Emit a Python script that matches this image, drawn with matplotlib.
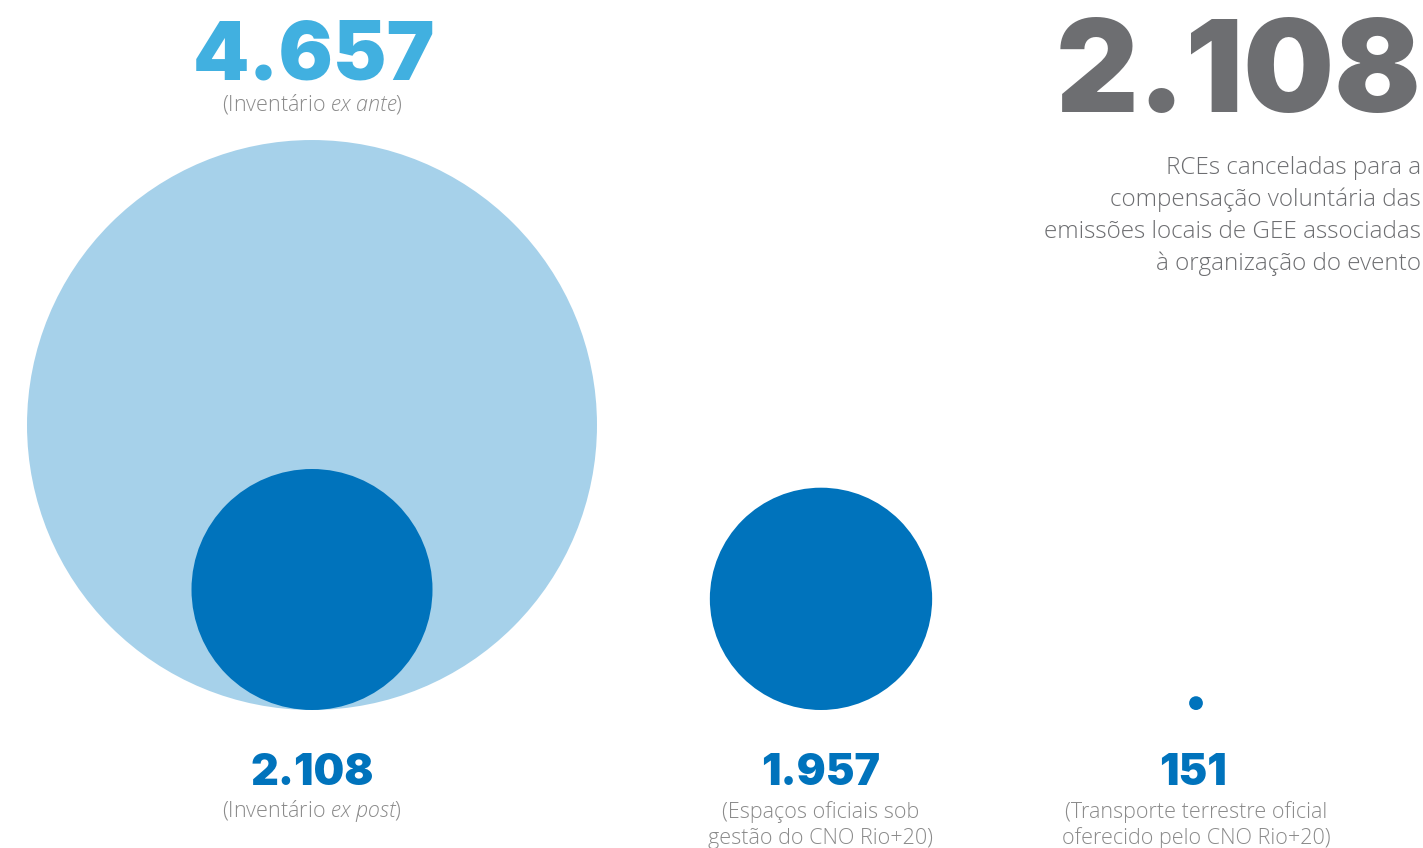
import matplotlib
matplotlib.use("Agg")
import matplotlib.pyplot as plt
from matplotlib.patches import Circle

# ---- data ----
labels = ["Inventário ex ante", "Inventário ex post", "Espaços oficiais sob gestão do CNO Rio+20",
          "Transporte terrestre oficial oferecido pelo CNO Rio+20"]
values = [4657, 2108, 1957, 151]
value_texts = ["4.657", "2.108", "1.957", "151"]
total_value_text = "2.108"
total_desc = ["RCEs canceladas para a", "compensação voluntária das",
              "emissões locais de GEE associadas", "à organização do evento"]

# ---- layout ----
W, H = 1423, 848
LIGHT = "#a6d1ea"
DARK = "#0073bc"
SKY = "#41b0e0"
GRAY = "#6d6e71"
SUB = "#8a8a8a"
DESC = "#6d6e71"
base_y = 710
ref_v, ref_r, power = 2108, 120.5, 1.086
def radius(v):
    return ref_r * (v / ref_v) ** power

centers_x = [312, 312, 821, 1196]
circle_colors = [LIGHT, DARK, DARK, DARK]

plt.rcParams["mathtext.fontset"] = "custom"
plt.rcParams["mathtext.rm"] = "Open Sans:light"
plt.rcParams["mathtext.it"] = "Open Sans:italic:light"

fig = plt.figure(figsize=(W / 100, H / 100), dpi=100)
ax = fig.add_axes([0, 0, 1, 1])
ax.set_xlim(0, W)
ax.set_ylim(H, 0)
ax.set_aspect("equal")
ax.axis("off")

for v, cx, c in zip(values, centers_x, circle_colors):
    r = radius(v)
    ax.add_patch(Circle((cx, base_y - r), r, color=c, lw=0))

NUM = dict(family="Inter", fontweight=900)
LIGHTF = dict(family="Open Sans", fontweight=300)
sub_fs = 15.5

# top-left number
ax.text(314, 80, value_texts[0], color=SKY, fontsize=58, ha="center", va="baseline", **NUM)
ax.text(312, 110, "(Inventário $\\it{ex\\ ante}$)", color=SUB, fontsize=sub_fs, ha="center", va="baseline", **LIGHTF)

# bottom numbers
ax.text(312, 785, value_texts[1], color=DARK, fontsize=31, ha="center", va="baseline", **NUM)
ax.text(312, 817, "(Inventário $\\it{ex\\ post}$)", color=SUB, fontsize=sub_fs, ha="center", va="baseline", **LIGHTF)
ax.text(821, 785, value_texts[2], color=DARK, fontsize=31, ha="center", va="baseline", **NUM)
ax.text(821, 818, "(Espaços oficiais sob", color=SUB, fontsize=sub_fs, ha="center", va="baseline", **LIGHTF)
ax.text(821, 844, "gestão do CNO Rio+20)", color=SUB, fontsize=sub_fs, ha="center", va="baseline", **LIGHTF)
ax.text(1193, 785, value_texts[3], color=DARK, fontsize=31, ha="center", va="baseline", **NUM)
ax.text(1196, 818, "(Transporte terrestre oficial", color=SUB, fontsize=sub_fs, ha="center", va="baseline", **LIGHTF)
ax.text(1196, 844, "oferecido pelo CNO Rio+20)", color=SUB, fontsize=sub_fs, ha="center", va="baseline", **LIGHTF)

# top right
ax.text(1421, 112, total_value_text, color=GRAY, fontsize=92, ha="right", va="baseline", **NUM)
for i, line in enumerate(total_desc):
    ax.text(1421, 174 + 32 * i, line, color=DESC, fontsize=17.5, ha="right", va="baseline", **LIGHTF)

fig.savefig("out.png", dpi=100)
